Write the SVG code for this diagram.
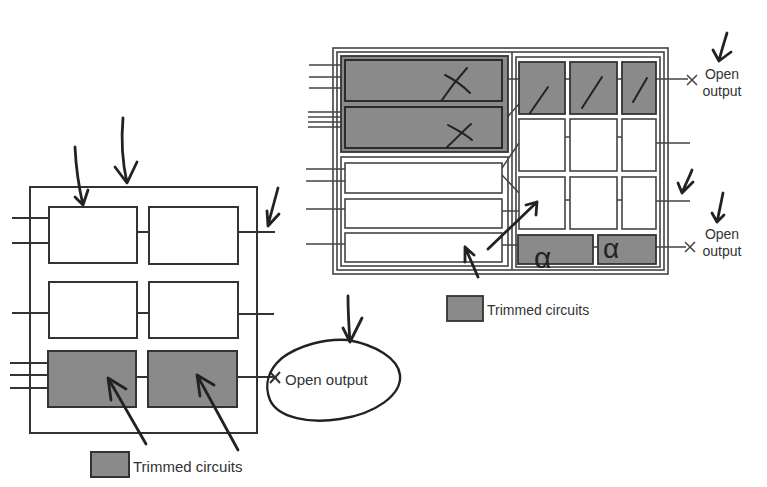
<svg xmlns="http://www.w3.org/2000/svg" width="767" height="487" viewBox="0 0 767 487">
<style>
.b{fill:#fff;stroke:#333;stroke-width:2}
.g{fill:#8a8a8a;stroke:#333;stroke-width:2}
.rb{fill:#fff;stroke:#444;stroke-width:1.6}
.rg{fill:#8a8a8a;stroke:#333;stroke-width:1.8}
.f{fill:none;stroke:#444;stroke-width:1.6}
.w{fill:none;stroke:#333;stroke-width:2}
.wr{fill:none;stroke:#444;stroke-width:1.5}
.h{fill:none;stroke:#222;stroke-width:2.8;stroke-linecap:round;stroke-linejoin:round}
.hs{fill:none;stroke:#222;stroke-width:2;stroke-linecap:round;stroke-linejoin:round}
.t{font-family:"Liberation Sans",Arial,sans-serif;fill:#333}
</style>
<rect width="767" height="487" fill="#fff"/>

<!-- LEFT DIAGRAM -->
<g id="left-frame"><rect x="30" y="187" width="227" height="246" class="w"/></g>
<g id="l-box-1-1"><rect x="49" y="207" width="88" height="56" class="b"/></g>
<g id="l-box-1-2"><rect x="149" y="207" width="89" height="57" class="b"/></g>
<g id="l-box-2-1"><rect x="49" y="282" width="88" height="56" class="b"/></g>
<g id="l-box-2-2"><rect x="149" y="282" width="89" height="56" class="b"/></g>
<g id="l-box-3-1"><rect x="48" y="351" width="88" height="56" class="g"/></g>
<g id="l-box-3-2"><rect x="148" y="351" width="89" height="56" class="g"/></g>

<g id="connectors">
<path class="w" d="M12,218H49M12,243H49M137,232H149M238,232H275M12,313H49M137,313H149M238,314H274M10,363H48M10,375H48M10,388H48M136,377H148M237,377H277"/>
<path class="w" d="M270,372L280,383M270,383L280,372"/>
<!-- right diagram connectors -->
<path class="wr" d="M309,65H345M309,77H345M309,88H345M308,112H345M308,117H345M308,122H345M308,127H345M306,169H345M306,181H345M306,209H345M306,244H345"/>
<path class="wr" d="M502,79H519M502,123L519,104M502,168L519,143M502,175L519,193M502,211H519M502,245H518"/>
<path class="wr" d="M565,79H570M617,79H622M656,79H688M565,137H570M617,137H622M656,143H690M565,200H570M617,200H622M656,201H690M593,247H598M656,247H686"/>
<path class="wr" d="M687,75L697,85M687,85L697,75M685,242L695,252M685,252L695,242"/>
</g>

<g id="open-output-left">
<path class="h" style="stroke-width:2.4" d="M348,340C375,345 398,358 400,375C402,395 375,414 340,419C310,424 278,418 270,400C264,385 268,370 282,358C298,346 325,338 348,340"/>
<text class="t" x="285" y="385" font-size="15">Open output</text>
</g>

<g id="legend-left">
<rect x="91" y="452" width="38" height="25" class="g"/>
<text class="t" x="133" y="472" font-size="15">Trimmed circuits</text>
</g>

<g id="hand-arrows-left">
<path class="h" d="M75,147C76,168 79,188 83,205M75,197L83,205L88,190"/>
<path class="h" d="M123,118C121,140 123,165 127,183M115,167L127,183L137,162"/>
<path class="h" d="M278,188L268,225M267,211L268,226L279,214"/>
<path class="h" d="M348,296C348,312 349,328 350,342M343,328L350,342L362,318"/>
<path class="h" d="M146,444L108,378M108,378L126,389M108,378L111,400"/>
<path class="h" d="M238,450L197,375M197,375L214,385M197,375L200,396"/>
</g>

<!-- RIGHT DIAGRAM -->
<g id="right-frame">
<rect x="333" y="48" width="335" height="226" class="f"/>
<rect x="337" y="52" width="327" height="218" class="f"/>
<path class="f" d="M512,52V270"/>
<rect x="516" y="57" width="144" height="210" class="f"/>
</g>
<g id="r-gray-group">
<rect x="341" y="56" width="167" height="96" class="rg"/>
<rect x="345" y="60" width="157" height="41" class="rg" style="stroke:#222"/>
<rect x="345" y="107" width="157" height="41" class="rg" style="stroke:#222"/>
<path class="hs" d="M445,75C455,80 463,86 470,93M467,68C458,78 450,88 442,100"/>
<path class="hs" d="M448,125C457,130 465,134 472,140M471,124C462,132 455,140 447,147"/>
</g>
<g id="r-white-group">
<rect x="341" y="157" width="167" height="109" class="f"/>
<rect x="345" y="163" width="157" height="30" class="rb"/>
<rect x="345" y="199" width="157" height="29" class="rb"/>
<rect x="345" y="233" width="157" height="29" class="rb"/>
</g>
<g id="r-cell-1-1"><rect x="519" y="62" width="46" height="52" class="rg"/><path class="hs" d="M530,113L548,87"/></g>
<g id="r-cell-1-2"><rect x="570" y="62" width="47" height="52" class="rg"/><path class="hs" d="M582,108L602,77"/></g>
<g id="r-cell-1-3"><rect x="622" y="62" width="34" height="52" class="rg"/><path class="hs" d="M633,102L647,78"/></g>
<g id="r-cell-2-1"><rect x="519" y="119" width="46" height="52" class="rb"/></g>
<g id="r-cell-2-2"><rect x="570" y="119" width="47" height="52" class="rb"/></g>
<g id="r-cell-2-3"><rect x="622" y="119" width="34" height="52" class="rb"/></g>
<g id="r-cell-3-1"><rect x="519" y="177" width="46" height="52" class="rb"/></g>
<g id="r-cell-3-2"><rect x="570" y="177" width="47" height="52" class="rb"/></g>
<g id="r-cell-3-3"><rect x="622" y="177" width="34" height="52" class="rb"/></g>
<g id="r-cell-4-1"><rect x="518" y="235" width="75" height="29" class="rg"/><text class="t" x="534" y="268" font-size="30" style="fill:#222">α</text></g>
<g id="r-cell-4-2"><rect x="598" y="235" width="58" height="29" class="rg"/><text class="t" x="603" y="258" font-size="28" style="fill:#222">α</text></g>

<g id="open-output-right">
<text class="t" x="722" y="79" font-size="14" text-anchor="middle">Open</text>
<text class="t" x="722" y="96" font-size="14" text-anchor="middle">output</text>
<text class="t" x="722" y="239" font-size="14" text-anchor="middle">Open</text>
<text class="t" x="722" y="256" font-size="14" text-anchor="middle">output</text>
</g>

<g id="legend-right">
<rect x="447" y="296" width="36" height="25" class="rg"/>
<text class="t" x="487" y="315" font-size="14">Trimmed circuits</text>
</g>

<g id="hand-arrows-right">
<path class="h" d="M727,33C724,43 721,52 719,61M713,50L719,61L731,52"/>
<path class="h" d="M692,170C689,178 685,185 682,193M678,183L682,193L693,182"/>
<path class="h" d="M723,193C721,203 719,213 717,222M712,213L717,222L724,215"/>
<path class="h" d="M488,249L537,202M537,202L526,205M537,202L536,215"/>
<path class="h" d="M478,277L465,247M465,247L465,262M465,247L474,255"/>
</g>
</svg>
